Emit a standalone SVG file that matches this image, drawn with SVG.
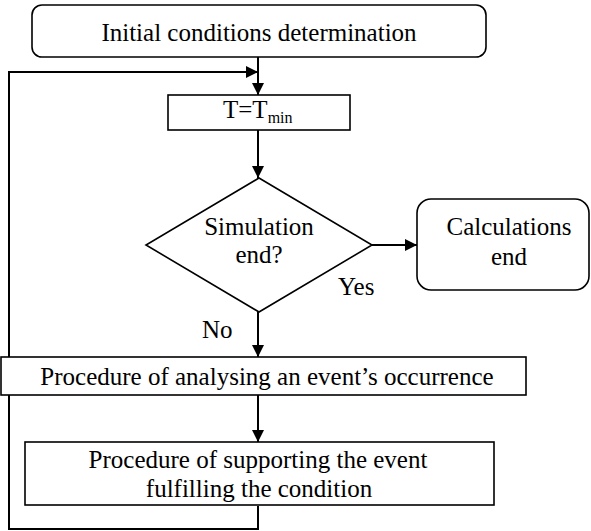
<svg xmlns="http://www.w3.org/2000/svg" width="591" height="531" viewBox="0 0 591 531">
  <style>
    .box { fill: #fff; stroke: #000; stroke-width: 1.6; }
    .wire { fill: none; stroke: #000; stroke-width: 2; }
    text { font-family: "Liberation Serif", "Times New Roman", serif; font-size: 25px; fill: #000; }
    .mid { text-anchor: middle; }
  </style>
  <defs>
    <marker id="arrow" markerWidth="12" markerHeight="12" refX="12" refY="6" orient="auto" markerUnits="userSpaceOnUse">
      <path d="M0,0 L12,6 L0,12 Z" fill="#000"/>
    </marker>
  </defs>

  <!-- connectors -->
  <g id="connectors">
    <line class="wire" x1="258" y1="57" x2="258" y2="95" marker-end="url(#arrow)"/>
    <polyline class="wire" points="258,506 258,529 9,529 9,72 258,72" marker-end="url(#arrow)"/>
    <line class="wire" x1="258" y1="130" x2="258" y2="178" marker-end="url(#arrow)"/>
    <line class="wire" x1="372" y1="245" x2="417" y2="245" marker-end="url(#arrow)"/>
    <line class="wire" x1="258" y1="312" x2="258" y2="357" marker-end="url(#arrow)"/>
    <line class="wire" x1="258" y1="395" x2="258" y2="442" marker-end="url(#arrow)"/>
    <text x="338" y="295">Yes</text>
    <text x="202" y="338">No</text>
  </g>

  <g id="init">
    <rect class="box" x="32" y="5" width="454" height="52" rx="10"/>
    <text class="mid" x="259" y="41">Initial conditions determination</text>
  </g>

  <g id="tmin">
    <rect class="box" x="168" y="95" width="182" height="35"/>
    <text x="223" y="118">T=T<tspan font-size="16" dy="5">min</tspan></text>
  </g>

  <g id="decision">
    <polygon class="box" points="259,178 372,245 259,312 146,245"/>
    <text class="mid" x="259" y="235">Simulation</text>
    <text class="mid" x="259" y="263">end?</text>
  </g>

  <g id="calc-end">
    <rect class="box" x="417" y="199" width="172" height="91" rx="14"/>
    <text class="mid" x="509" y="235">Calculations</text>
    <text class="mid" x="509" y="265">end</text>
  </g>

  <g id="analyse">
    <rect class="box" x="1" y="357" width="525" height="38"/>
    <text class="mid" x="267" y="385">Procedure of analysing an event’s occurrence</text>
  </g>

  <g id="support">
    <rect class="box" x="25" y="442" width="469" height="63"/>
    <text class="mid" x="258" y="468">Procedure of supporting the event</text>
    <text class="mid" x="259" y="497">fulfilling the condition</text>
  </g>
</svg>
